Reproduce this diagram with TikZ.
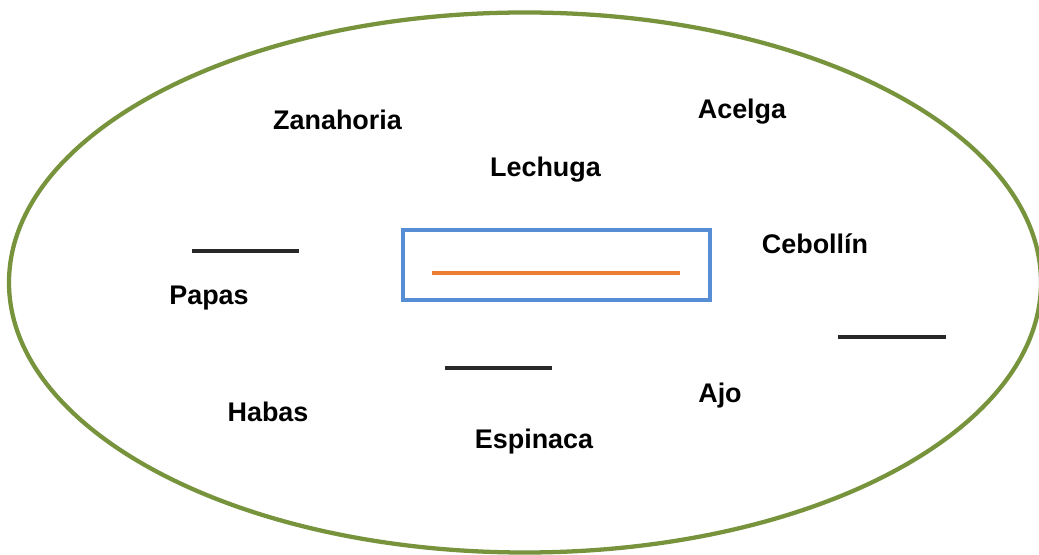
\documentclass[tikz,border=0pt]{standalone}
\usepackage{fontspec}
\setmainfont{Liberation Sans}
\definecolor{ellgreen}{RGB}{119,147,60}
\definecolor{boxblue}{RGB}{85,142,213}
\definecolor{lineorange}{RGB}{237,125,49}
\definecolor{blankgray}{RGB}{40,40,40}
\begin{document}
\begin{tikzpicture}[x=0.75pt,y=-0.75pt,
  word/.style={anchor=base,inner sep=0pt,font=\fontsize{20.2}{23}\selectfont\bfseries},
  blank/.style={draw=blankgray,line width=2.4pt},
]
\useasboundingbox (0,0) rectangle (1039,555);
\fill[white] (0,0) rectangle (1039,555);
\draw[ellgreen,line width=3.2pt] (525,282.5) ellipse [x radius=516, y radius=270];
\node[draw=boxblue,line width=2.8pt,minimum width=307*0.75pt,minimum height=70*0.75pt,inner sep=0pt] (box) at (556.5,265) {};
\coordinate (oa) at (432,273);
\coordinate (ob) at (680,273);
\draw[lineorange,line width=2.4pt] (oa) -- (ob);
\coordinate (b1a) at (192,251);
\coordinate (b1b) at (299,251);
\draw[blank] (b1a) -- (b1b);
\coordinate (b2a) at (838,337);
\coordinate (b2b) at (946,337);
\draw[blank] (b2a) -- (b2b);
\coordinate (b3a) at (445,368);
\coordinate (b3b) at (552,368);
\draw[blank] (b3a) -- (b3b);
\node[word] (zanahoria) at (337.5,130) {Zanahoria};
\node[word] (lechuga) at (545.5,177) {Lechuga};
\node[word] (acelga) at (742,119) {Acelga};
\node[word] (cebollin) at (815,254) {Cebollín};
\node[word] (papas) at (209,305) {Papas};
\node[word] (habas) at (268,422) {Habas};
\node[word] (espinaca) at (534,449) {Espinaca};
\node[word] (ajo) at (720,403) {Ajo};
\end{tikzpicture}
\end{document}
